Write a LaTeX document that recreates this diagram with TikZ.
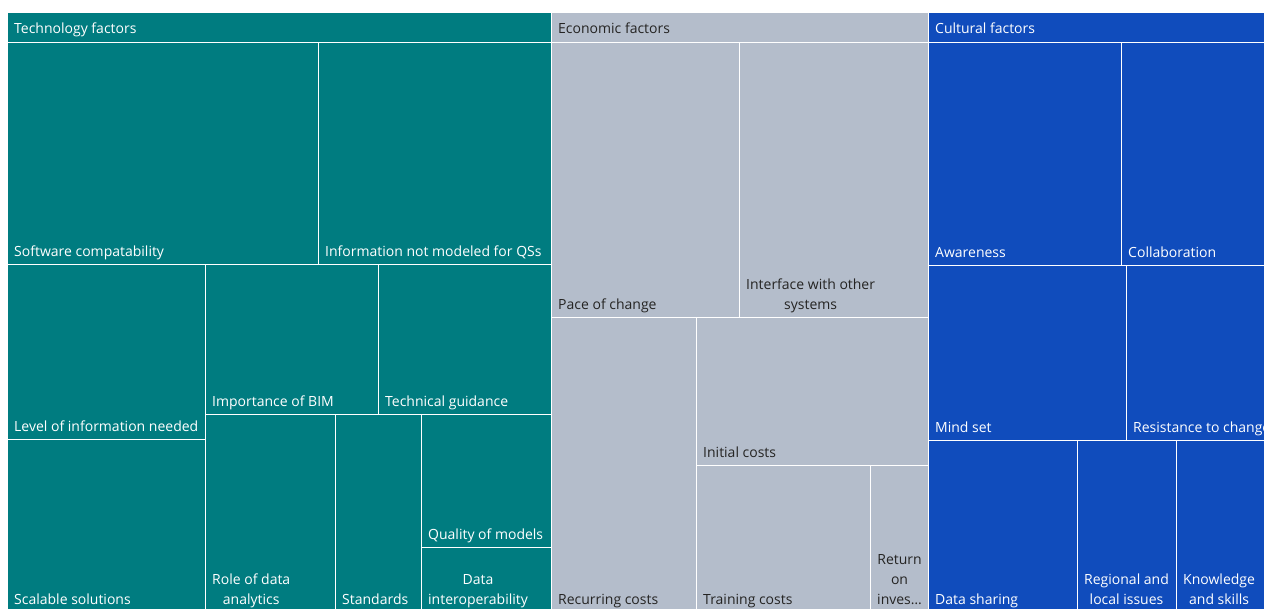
\documentclass[tikz,border=0pt]{standalone}
\usepackage{fontspec}
\setmainfont{Open Sans}
\definecolor{techcol}{RGB}{0,124,128}
\definecolor{econcol}{RGB}{180,189,203}
\definecolor{cultcol}{RGB}{16,76,188}
\definecolor{darktxt}{RGB}{37,36,35}
\begin{document}
\begin{tikzpicture}[x=1pt,y=-1pt,
    tile/.style={draw=white,line width=1pt},
    lbl/.style={anchor=south west,inner sep=0pt,align=center,font=\fontsize{14}{20}\selectfont},
    hdr/.style={anchor=base west,inner sep=0pt,font=\fontsize{14}{20}\selectfont}]
    \newcommand{\pad}{7}
    \newcommand{\drop}{0.5}

    \useasboundingbox (0,0) rectangle (1264,608);
    \clip (0,0) rectangle (1264,608);

    % group headers
    \filldraw[tile,fill=techcol] (7,12) rectangle (551,42);
    \filldraw[tile,fill=econcol] (551,12) rectangle (928,42);
    \filldraw[tile,fill=cultcol] (928,12) rectangle (1270,42);
    \node[hdr,white] (techhdr) at (7+\pad,33) {Technology factors};
    \node[hdr,darktxt] (econhdr) at (551+\pad,33) {Economic factors};
    \node[hdr,white] (culthdr) at (928+\pad,33) {Cultural factors};

    % technology factors
    \filldraw[tile,fill=techcol] (7,42) rectangle (318,264);
    \filldraw[tile,fill=techcol] (318,42) rectangle (551,264);
    \filldraw[tile,fill=techcol] (7,264) rectangle (205,439);
    \filldraw[tile,fill=techcol] (7,439) rectangle (205,612);
    \filldraw[tile,fill=techcol] (205,264) rectangle (378,414);
    \filldraw[tile,fill=techcol] (378,264) rectangle (551,414);
    \filldraw[tile,fill=techcol] (205,414) rectangle (335,612);
    \filldraw[tile,fill=techcol] (335,414) rectangle (421,612);
    \filldraw[tile,fill=techcol] (421,414) rectangle (551,547);
    \filldraw[tile,fill=techcol] (421,547) rectangle (551,612);
    \node[lbl,white] (softw) at (7+\pad,262+\drop) {Software compatability\strut};
    \node[lbl,white] (infoqs) at (318+\pad,262+\drop) {Information not modeled for QSs\strut};
    \node[lbl,white] (level) at (7+\pad,437+\drop) {Level of information needed\strut};
    \node[lbl,white] (scal) at (7+\pad,610+\drop) {Scalable solutions\strut};
    \node[lbl,white] (bim) at (205+\pad,412+\drop) {Importance of BIM\strut};
    \node[lbl,white] (guid) at (378+\pad,412+\drop) {Technical guidance\strut};
    \node[lbl,white] (role) at (205+\pad,610+\drop) {Role of data\\analytics\strut};
    \node[lbl,white] (stand) at (335+\pad,610+\drop) {Standards\strut};
    \node[lbl,white] (qual) at (421+\pad,545+\drop) {Quality of models\strut};
    \node[lbl,white] (interop) at (421+\pad,610+\drop) {Data\\interoperability\strut};

    % economic factors
    \filldraw[tile,fill=econcol] (551,42) rectangle (739,317);
    \filldraw[tile,fill=econcol] (739,42) rectangle (928,317);
    \filldraw[tile,fill=econcol] (551,317) rectangle (696,612);
    \filldraw[tile,fill=econcol] (696,317) rectangle (928,465);
    \filldraw[tile,fill=econcol] (696,465) rectangle (870,612);
    \filldraw[tile,fill=econcol] (870,465) rectangle (928,612);
    \node[lbl,darktxt] (pace) at (551+\pad,315+\drop) {Pace of change\strut};
    \node[lbl,darktxt] (iface) at (739+\pad,315+\drop) {Interface with other\\systems\strut};
    \node[lbl,darktxt] (recur) at (551+\pad,610+\drop) {Recurring costs\strut};
    \node[lbl,darktxt] (init) at (696+\pad,463+\drop) {Initial costs\strut};
    \node[lbl,darktxt] (train) at (696+\pad,610+\drop) {Training costs\strut};
    \node[lbl,darktxt] (roi) at (870+\pad,610+\drop) {Return\\on\\inves…\strut};

    % cultural factors
    \filldraw[tile,fill=cultcol] (928,42) rectangle (1121,265);
    \filldraw[tile,fill=cultcol] (1121,42) rectangle (1270,265);
    \filldraw[tile,fill=cultcol] (928,265) rectangle (1126,440);
    \filldraw[tile,fill=cultcol] (1126,265) rectangle (1270,440);
    \filldraw[tile,fill=cultcol] (928,440) rectangle (1077,612);
    \filldraw[tile,fill=cultcol] (1077,440) rectangle (1176,612);
    \filldraw[tile,fill=cultcol] (1176,440) rectangle (1270,612);
    \node[lbl,white] (aware) at (928+\pad,263+\drop) {Awareness\strut};
    \node[lbl,white] (collab) at (1121+\pad,263+\drop) {Collaboration\strut};
    \node[lbl,white] (mind) at (928+\pad,438+\drop) {Mind set\strut};
    \node[lbl,white] (resist) at (1126+\pad,438+\drop) {Resistance to change\strut};
    \node[lbl,white] (share) at (928+\pad,610+\drop) {Data sharing\strut};
    \node[lbl,white] (region) at (1077+\pad,610+\drop) {Regional and\\local issues\strut};
    \node[lbl,white] (know) at (1176+\pad,610+\drop) {Knowledge\\and skills\strut};
\end{tikzpicture}
\end{document}
